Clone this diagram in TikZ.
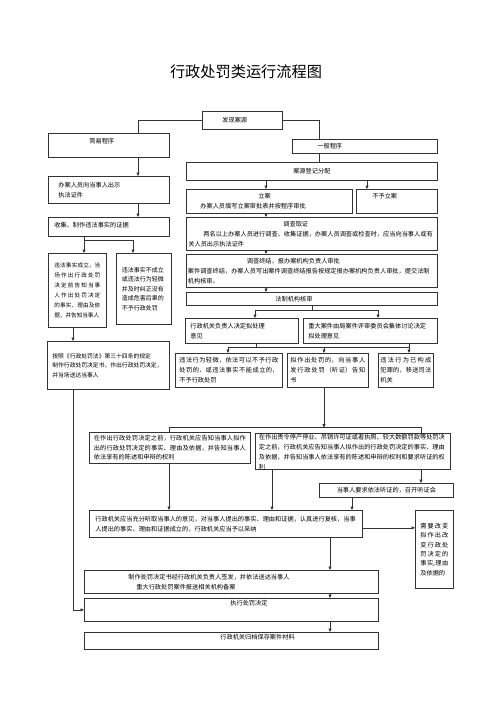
\documentclass[tikz,border=0pt]{standalone}
\usepackage{fontspec}
\setmainfont{Noto Sans CJK SC}
\usetikzlibrary{positioning,calc}
\usetikzlibrary{arrows.meta}
\XeTeXlinebreaklocale "zh"
\XeTeXlinebreakskip=0pt plus 2pt
\setlength{\parindent}{0pt}
\tikzset{
	box/.style={draw=black!80,fill=white,line width=0.7pt,anchor=north west,
		inner xsep=2pt,inner ysep=1pt,align=left,font=\fontsize{6.2}{10}\selectfont},
	flow/.style={draw=black!80,line width=0.6pt,-{Triangle[length=3.5pt,width=3pt]}},
	link/.style={draw=black!80,line width=0.6pt},
}

\begin{document}
\begin{tikzpicture}[x=1pt,y=-1pt]
	\useasboundingbox (0,0) rectangle (499,706);
	\node[font=\fontsize{15.2}{18}\selectfont] (title) at (246,72) {行政处罚类运行流程图};
	% top row
	\node[box,text width=76pt,minimum height=18pt] (source) at (202,111) {\hspace*{18pt}发现案源};
	\node[box,text width=117pt,minimum height=24pt,text depth=8pt] (simple) at (48,133) {\hspace*{39pt}简易程序};
	\node[box,text width=141pt,minimum height=14pt] (general) at (292,139) {\hspace*{23pt}一般程序};
	% simple procedure
	\node[box,inner xsep=10pt,text width=101pt,minimum height=27pt] (show) at (48,176) {办案人员向当事人出示\\执法证件};
	\node[box,inner xsep=6pt,text width=109pt,minimum height=19pt,text depth=4pt] (collect) at (48,217) {收集、制作违法事实的证据};
	\node[box,inner xsep=6pt,text width=46pt,minimum height=74pt,align=justify,font=\fontsize{5.6}{10}\selectfont] (onsite) at (48,253)
		{违法事实成立，当\linebreak 场作出行政处罚\linebreak 决定前告知当事\linebreak 人作出处罚决定\linebreak 的事实、理由及依\linebreak 据，并告知当事人};
	\node[box,inner xsep=5.5pt,text width=44pt,minimum height=71pt,font=\fontsize{6}{9.5}\selectfont] (nopen) at (116,253)
		{违法事实不成立\\或违法行为轻微\\并及时纠正没有\\造成危害后果的\\不予行政处罚};
	\node[box,inner xsep=5pt,text width=112pt,minimum height=48pt,font=\fontsize{5.8}{9.5}\selectfont] (decide) at (47,341)
		{按照《行政处罚法》第三十四条的规定\\制作行政处罚决定书，作出行政处罚决定，\\并当场送达当事人};
	% general procedure
	\node[box,minimum width=251pt,minimum height=18pt] (register) at (186,162) {案源登记分配};
	\node[box,text width=162pt,minimum height=24pt] (file) at (186,189) {\hspace*{70pt}立案\\ \hspace*{12pt}办案人员填写立案审批表并按程序审批};
	\node[box,text width=77pt,minimum height=24pt,text depth=10pt] (nofile) at (356,189) {\hspace*{14pt}不予立案};
	\node[box,text width=247pt,minimum height=33pt] (probe) at (186,217)
		{\hspace*{95pt}调查取证\\ \hspace*{15pt}两名以上办案人员进行调查、收集证据，办案人员调查或检查时，应当向当事人或有\\关人员出示执法证件};
	\node[box,inner xsep=1.5pt,text width=248pt,minimum height=33pt] (report) at (186,254)
		{\hspace*{59pt}调查终结，报办案机构负责人审批\\案件调查终结，办案人员写出案件调查终结报告按规定报办案机构负责人审批，提交法制\\机构核审。};
	\node[box,text width=247pt,minimum height=13pt] (review) at (186,292) {\hspace*{87pt}法制机构核审};
	\node[box,inner xsep=5pt,text width=103pt,minimum height=25pt] (chief) at (185,318) {行政机关负责人决定拟处理\\意见};
	\node[box,inner xsep=5pt,text width=124pt,minimum height=25pt] (board) at (303,318) {重大案件由局案件评审委员会集体讨论决定\\拟处理意见};
	\node[box,inner xsep=4pt,text width=99pt,minimum height=34pt,align=justify] (lenient) at (175,353)
		{违法行为轻微，依法可以不予行政\linebreak 处罚的，或违法事实不能成立的，\linebreak 不予行政处罚};
	\node[box,inner xsep=3pt,text width=75pt,minimum height=34pt,align=justify] (notice) at (287,353)
		{拟作出处罚的，向当事人\linebreak 发行政处罚（听证）告知\linebreak 书};
	\node[box,text width=51pt,minimum height=34pt,align=justify] (crime) at (378,353)
		{违法行为已构成\linebreak 犯罪的，移送司法\linebreak 机关};
	% statement and hearing
	\node[box,inner xsep=4.5pt,text width=152pt,minimum height=31pt,align=justify,font=\fontsize{6.2}{9.5}\selectfont] (prior) at (89,432)
		{在作出行政处罚决定之前，行政机关应告知当事人拟作\linebreak 出的行政处罚决定的事实、理由及依据，并告知当事人\linebreak 依法享有的陈述和申辩的权利};
	\node[box,inner xsep=3.5pt,inner ysep=0.5pt,text width=188pt,minimum height=35pt] (hearing) at (255,433)
		{在作出责令停产停业、吊销许可证或者执照、较大数额罚款等处罚决\\定之前，行政机关应告知当事人拟作出的行政处罚决定的事实、理由\\及依据，并告知当事人依法享有的陈述和申辩的权利和要求听证的权\\\smash{利}};
	\node[box,minimum width=134pt,minimum height=14pt] (request) at (319,483) {当事人要求依法听证的，召开听证会};
	\node[box,inner xsep=6pt,text width=261pt,minimum height=27pt] (heed) at (89,510)
		{行政机关应当充分听取当事人的意见，对当事人提出的事实、理由和证据，认真进行复核，当事\\人提出的事实、理由和证据成立的，行政机关应当予以采纳};
	\node[box,inner xsep=5pt,text width=28pt,minimum height=78pt,align=justify,font=\fontsize{6.2}{9.4}\selectfont] (change) at (415,510)
		{需要改变\linebreak 拟作出改\linebreak 变行政处\linebreak 罚决定的\linebreak 事实,理由\linebreak 及依据的};
	% bottom
	\node[box,text width=290pt,minimum height=23pt] (write) at (84,570)
		{\hspace*{42pt}制作处罚决定书经行政机关负责人签发，并依法送达当事人\\ \hspace*{50pt}重大行政处罚案件报送相关机构备案};
	\node[box,text width=290pt,minimum height=23pt,text depth=14pt] (execute) at (84,598) {\hspace*{144pt}执行处罚决定};
	\node[box,text width=290pt,minimum height=17pt,text depth=7pt] (archive) at (84,632) {\hspace*{134pt}行政机关归档保存案件材料};

	% connectors
	\draw[link] (source.west) -| ([xshift=90pt]simple.north west);
	\draw[link] (source.east) -| ([xshift=27pt]general.north west);
	\draw[flow] ([xshift=90pt]simple.south west) -- ([xshift=90pt]show.north west);
	\draw[flow] ([xshift=90pt]show.south west) -- ([xshift=90pt]collect.north west);
	\draw[flow] ([xshift=36pt]collect.south west) -- ([xshift=36pt]onsite.north west);
	\draw[flow] ([shift={(36pt,-4pt)}]collect.south west) -| ([xshift=17pt]nopen.north west);
	\draw[flow] ([xshift=25pt]onsite.south west) -- ([xshift=26pt]decide.north west);
	\draw[flow] ([xshift=26pt]decide.south west) |- (execute.west);
	\draw[link] ([xshift=27pt]general.south west) -- ([xshift=133pt]register.north west);
	\draw[flow] ([xshift=80pt]register.south west) -- ([xshift=80pt]file.north west);
	\draw[flow] ([xshift=181pt]register.south west) -- ([xshift=11pt]nofile.north west);
	\draw[flow] ([xshift=80pt]file.south west) -- ([xshift=80pt]probe.north west);
	\draw[flow] ([xshift=80pt]probe.south west) -- ([xshift=80pt]report.north west);
	\draw[flow] ([xshift=80pt]report.south west) -- ([xshift=80pt]review.north west);
	\draw[flow] (review.south) -- ++(0,-5pt) -| ([xshift=70pt]chief.north west);
	\draw[flow] (review.south) -- ++(0,-5pt) -| ([xshift=75pt]board.north west);
	\draw[link] ([xshift=71pt]chief.south west) -- ++(0,-4pt);
	\draw[flow] ([xshift=106pt]board.south west) |- ([shift={(53pt,6pt)}]lenient.north west) -- ([xshift=53pt]lenient.north west);
	\draw[flow] ([shift={(37pt,6pt)}]notice.north west) -- ([xshift=37pt]notice.north west);
	\draw[flow] ([xshift=106pt]board.south west) -- ([xshift=31pt]crime.north west);
	\coordinate (bar) at ([shift={(37pt,-40pt)}]notice.south west);
	\draw[flow] ([xshift=37pt]notice.south west) -- (bar);
	\draw[link] (bar) -| ([xshift=80pt]prior.north west);
	\draw[link] (bar) -| ([xshift=166pt]hearing.north west);
	\draw[flow] ([xshift=80pt]prior.south west) -- ([xshift=80pt]heed.north west);
	\draw[flow] ([xshift=166pt]hearing.south west) -- ([xshift=102pt]request.north west);
	\draw[flow] ([xshift=17pt]hearing.south west) -- ([xshift=183pt]heed.north west);
	\draw[flow] ([xshift=33pt]request.south west) -- ([xshift=263pt]heed.north west);
	\draw[flow] ([yshift=-4pt]heed.east) -- ([yshift=-4pt]heed.east -| change.west);
	\draw[flow] ([xshift=241pt]heed.south west) -- ([xshift=246pt]write.north west);
	\draw[flow] ([xshift=246pt]write.south west) -- ([xshift=246pt]execute.north west);
	\draw[flow] ([xshift=246pt]execute.south west) -- ([xshift=246pt]archive.north west);
\end{tikzpicture}
\end{document}
